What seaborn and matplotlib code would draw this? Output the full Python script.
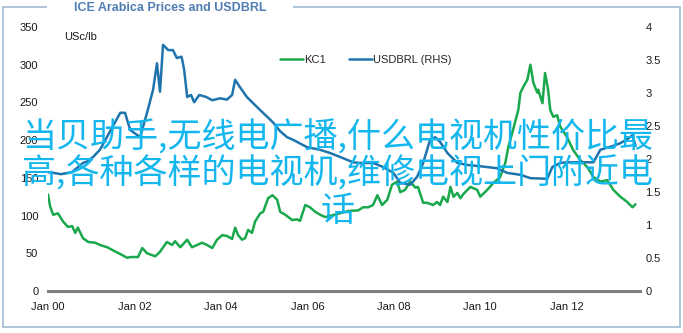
import matplotlib
matplotlib.use("Agg")
import matplotlib.pyplot as plt
import matplotlib.dates as mdates
from matplotlib import font_manager
from matplotlib.patches import Rectangle
import seaborn as sns
import pandas as pd

# ---------------- data ----------------
kc1_time = [2000.00, 2000.05, 2000.12, 2000.23, 2000.35, 2000.46, 2000.56, 2000.63, 2000.69,
            2000.81, 2000.93, 2001.09, 2001.20, 2001.37, 2001.50, 2001.67, 2001.83, 2001.90,
            2002.08, 2002.18, 2002.29, 2002.48, 2002.59, 2002.75, 2002.87, 2002.94, 2003.06,
            2003.22, 2003.33, 2003.45, 2003.56, 2003.68, 2003.80, 2003.91, 2004.03, 2004.14,
            2004.26, 2004.33, 2004.40, 2004.49, 2004.56, 2004.63, 2004.72, 2004.79, 2004.91,
            2004.98, 2005.09, 2005.19, 2005.30, 2005.37, 2005.49, 2005.65, 2005.76, 2005.83,
            2005.95, 2006.06, 2006.18, 2006.30, 2006.41, 2006.55, 2006.75, 2006.95, 2007.18,
            2007.29, 2007.41, 2007.52, 2007.62, 2007.73, 2007.85, 2007.96, 2008.08, 2008.15,
            2008.26, 2008.38, 2008.50, 2008.56, 2008.68, 2008.77, 2008.91, 2009.00, 2009.07,
            2009.14, 2009.24, 2009.31, 2009.38, 2009.47, 2009.54, 2009.60, 2009.77, 2009.93,
            2010.00, 2010.16, 2010.30, 2010.46, 2010.58, 2010.65, 2010.76, 2010.88, 2010.93,
            2011.00, 2011.09, 2011.16, 2011.23, 2011.32, 2011.34, 2011.44, 2011.50, 2011.57,
            2011.62, 2011.69, 2011.78, 2011.85, 2012.01, 2012.15, 2012.31, 2012.48, 2012.62,
            2012.78, 2012.94, 2013.08, 2013.24, 2013.40, 2013.52, 2013.59]
kc1_value = [128, 112, 101, 103, 92, 85, 86, 77, 84,
             70, 65, 64, 61, 58, 54, 49, 44, 45,
             45, 57, 50, 46, 52, 65, 61, 66, 58,
             68, 58, 61, 64, 61, 57, 68, 74, 73,
             69, 84, 74, 68, 70, 81, 77, 92, 103,
             105, 123, 127, 121, 105, 101, 94, 95, 93,
             114, 111, 105, 101, 98, 100, 103, 106, 107,
             111, 111, 114, 127, 114, 121, 141, 145, 131,
             134, 145, 137, 138, 117, 117, 114, 118, 114,
             125, 118, 138, 125, 130, 123, 128, 138, 134,
             125, 134, 143, 151, 170, 191, 214, 240, 263,
             271, 280, 300, 276, 263, 267, 249, 289, 267,
             240, 231, 233, 218, 204, 187, 174, 164, 151,
             145, 147, 134, 125, 118, 111, 115]

brl_time = [2000.00, 2000.12, 2000.30, 2000.55, 2000.81, 2000.90, 2001.04, 2001.20, 2001.36,
            2001.67, 2001.78, 2001.90, 2002.13, 2002.29, 2002.43, 2002.52, 2002.59, 2002.66,
            2002.78, 2002.89, 2002.98, 2003.09, 2003.15, 2003.22, 2003.31, 2003.38, 2003.50,
            2003.66, 2003.80, 2003.98, 2004.14, 2004.26, 2004.33, 2004.44, 2004.60, 2004.74,
            2004.91, 2005.07, 2005.21, 2005.37, 2005.53, 2005.67, 2005.99, 2006.29, 2006.53,
            2006.76, 2007.06, 2007.22, 2007.52, 2007.75, 2007.99, 2008.15, 2008.38, 2008.54,
            2008.68, 2008.84, 2008.96, 2009.07, 2009.24, 2009.47, 2009.70, 2010.00, 2010.39,
            2010.62, 2010.93, 2011.16, 2011.55, 2011.67, 2011.85, 2012.01, 2012.62, 2012.78,
            2013.08, 2013.24, 2013.40, 2013.52, 2013.59]
brl_value = [1.80, 1.79, 1.77, 1.80, 1.94, 1.96, 2.03, 2.14, 2.33,
             2.70, 2.70, 2.44, 2.33, 2.70, 3.05, 3.45, 3.02, 3.73,
             3.65, 3.65, 3.53, 3.55, 3.35, 2.94, 2.97, 2.86, 2.97,
             2.94, 2.89, 2.92, 2.90, 2.97, 3.20, 3.09, 2.94, 2.85,
             2.74, 2.64, 2.55, 2.42, 2.33, 2.29, 2.18, 2.14, 2.09,
             2.03, 1.95, 1.94, 1.94, 1.88, 1.79, 1.64, 1.61, 1.73,
             1.94, 2.29, 2.33, 2.26, 2.09, 1.94, 1.91, 1.89, 1.86,
             1.79, 1.76, 1.71, 1.70, 1.88, 1.94, 1.95, 1.95, 2.14,
             2.20, 2.24, 2.30, 2.36, 2.20]

left_ticks = [0, 50, 100, 150, 200, 250, 300, 350]
right_ticks = [0, 0.5, 1, 1.5, 2, 2.5, 3, 3.5, 4]
x_tick_years = [2000, 2002, 2004, 2006, 2008, 2010, 2012]

title = "ICE Arabica Prices and USDBRL"
unit_label = "USc/lb"
watermark = ["当贝助手,无线电广播,什么电视机性价比最",
             "高,各种各样的电视机,维修电视上门附近电",
             "话"]

# ---------------- helpers ----------------
def to_dates(years):
    out = []
    for y in years:
        base = pd.Timestamp(year=int(y), month=1, day=1)
        out.append(base + pd.Timedelta(days=(y - int(y)) * 365.25))
    return out

kc_df = pd.DataFrame({"date": to_dates(kc1_time), "value": kc1_value})
brl_df = pd.DataFrame({"date": to_dates(brl_time), "value": brl_value})

sns.set_theme(style="white")
names = {f.name for f in font_manager.fontManager.ttflist}
narrow = "Liberation Sans Narrow" in names
base_font = "Liberation Sans"
plt.rcParams["font.family"] = [base_font, "DejaVu Sans"]

GREEN = "#19a84b"
BLUE = "#1f74ad"
GREY = "#808080"
TXT = "#1a1a1a"

fig = plt.figure(figsize=(6.83, 3.33), dpi=100)
W, H = 683, 333
ax = fig.add_axes([48 / W, 1 - 291 / H, (640 - 48) / W, (291 - 27) / H])
ax2 = ax.twinx()

sns.lineplot(data=kc_df, x="date", y="value", ax=ax, color=GREEN, linewidth=1.8, label="KC1", legend=False)
sns.lineplot(data=brl_df, x="date", y="value", ax=ax2, color=BLUE, linewidth=1.8, label="USDBRL (RHS)", legend=False)

ax.set_xlim(pd.Timestamp("2000-01-01"), pd.Timestamp("2013-09-12"))
ax.set_ylim(0, 350)
ax2.set_ylim(0, 4)
ax.set_yticks(left_ticks)
ax.set_yticklabels([str(t) for t in left_ticks])
ax2.set_yticks(right_ticks)
ax2.set_yticklabels([f"{t:g}" for t in right_ticks])
ax.set_xticks([pd.Timestamp(year=y, month=1, day=1) for y in x_tick_years])
ax.xaxis.set_major_formatter(mdates.DateFormatter("Jan %y"))
ax.set_xlabel("")
ax.set_ylabel("")
ax2.set_ylabel("")

for a in (ax, ax2):
    for s in a.spines.values():
        s.set_visible(False)
    a.patch.set_visible(False)
    a.grid(False)
ax.spines["bottom"].set_visible(True)
ax.spines["bottom"].set_color(GREY)
ax.spines["bottom"].set_linewidth(2.2)
ax.spines["bottom"].set_zorder(5)

ax.tick_params(axis="x", direction="out", length=3, width=1, color=GREY, labelsize=8, labelcolor=TXT, pad=5)
ax.tick_params(axis="y", length=0, labelsize=8, labelcolor=TXT, pad=7)
ax2.tick_params(axis="y", length=0, labelsize=8, labelcolor=TXT, pad=4)

ax.text(64 / W, 1 - 37 / H, unit_label, transform=fig.transFigure, fontsize=8, color=TXT, va="center", ha="left")

handles = [ax.lines[0], ax2.lines[0]]
fig.legend(handles, ["KC1", "USDBRL (RHS)"], loc="center", bbox_to_anchor=(366 / W, 1 - 60 / H),
           ncol=2, frameon=False, fontsize=8, handlelength=2.0, handletextpad=0.15, columnspacing=2.1)

# outer frame with title breaking it
fig.patches.append(Rectangle((3 / W, 1 - 327 / H), 677 / W, 320 / H, transform=fig.transFigure,
                             fill=False, edgecolor="#a8bfd3", linewidth=1.3, zorder=0))
fig.patches.append(Rectangle((47 / W, 1 - 12 / H), 246 / W, 10 / H, transform=fig.transFigure,
                             facecolor="white", edgecolor="none", zorder=1))
if narrow:
    fig.text(170 / W, 1 - 8 / H, title, fontsize=10, fontweight="bold", color="#4f7db3",
             family=["Liberation Sans Narrow", "DejaVu Sans"], ha="center", va="center")
else:
    fig.text(170 / W, 1 - 8 / H, title, fontsize=9, fontweight="bold", color="#4f7db3",
             ha="center", va="center", fontstretch="condensed")

# overlaid watermark text
wm_y = [138, 174, 212]
for line, yy in zip(watermark, wm_y):
    fig.text(338 / W, 1 - yy / H, line, fontsize=24.5, color="#14b6ee",
             family=["Noto Sans CJK SC", "DejaVu Sans"], ha="center", va="center", zorder=10)

fig.savefig("out.png", dpi=100)
